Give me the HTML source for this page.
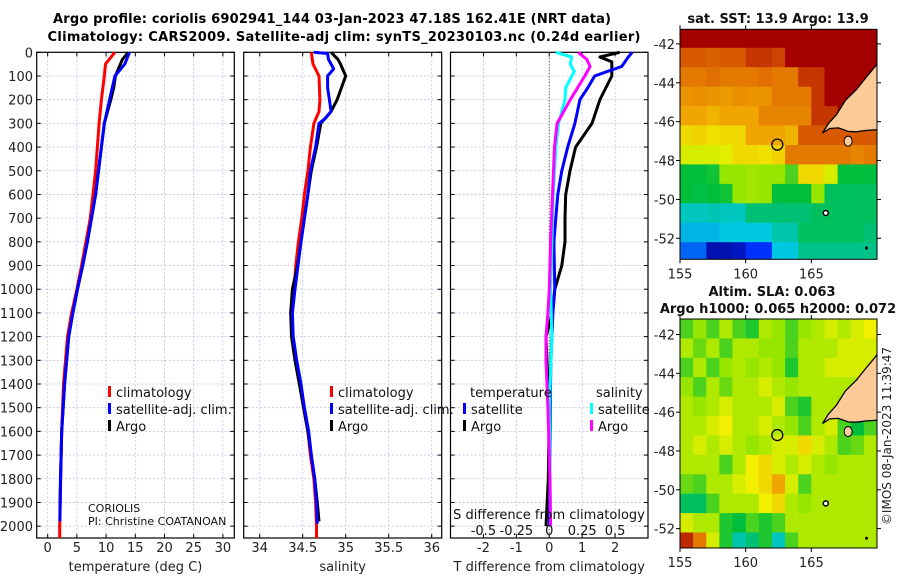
<!DOCTYPE html>
<html><head><meta charset="utf-8"><style>
html,body{margin:0;padding:0;background:#fff;}
svg{display:block;font-family:"DejaVu Sans","Liberation Sans",sans-serif;}
</style></head><body>
<svg id="fig" width="900" height="580" viewBox="0 0 900 580" xmlns="http://www.w3.org/2000/svg">
<text x="332" y="23" font-size="13" font-weight="bold" text-anchor="middle" textLength="558">Argo profile: coriolis 6902941_144 03-Jan-2023 47.18S 162.41E (NRT data)</text>
<text x="344" y="41" font-size="13" font-weight="bold" text-anchor="middle" textLength="593">Climatology: CARS2009. Satellite-adj clim: synTS_20230103.nc (0.24d earlier)</text>
<g id="panels"></g>
<g id="maps"></g>
</svg>
<script>
// ---------- profile data ----------
const tClimDepth = [0,50,100,200,300,500,700,900,1000,1100,1200,1400,1600,2000,2050];
const tClimVal   = [11.5,9.9,9.7,9.2,8.8,8.2,7.3,5.8,5.0,4.1,3.4,2.7,2.4,2.05,2.05];
const tArgoDepth = [0,30,100,150,200,300,400,500,600,700,800,900,1000,1100,1200,1400,1600,1800,1950];
const tArgoVal   = [13.8,12.8,11.6,11.3,10.8,9.7,9.2,8.7,8.2,7.5,6.8,6.0,5.1,4.3,3.6,2.9,2.4,2.2,2.1];
const tSatDepth  = [0,50,100,200,300,400,500,600,700,800,900,1000,1100,1200,1400,1600,1800,1980];
const tSatVal    = [14.0,13.2,11.5,10.6,9.7,9.2,8.7,8.2,7.5,6.8,6.0,5.1,4.3,3.6,2.9,2.4,2.2,2.1];

const sClimDepth = [0,50,100,200,250,300,400,500,600,700,800,900,1000,1100,1200,1300,1400,1500,1600,1700,1800,1900,2000,2050];
const sClimVal   = [34.60,34.62,34.69,34.70,34.69,34.63,34.59,34.56,34.52,34.49,34.45,34.42,34.40,34.37,34.38,34.42,34.47,34.51,34.56,34.59,34.63,34.65,34.66,34.66];
const sSatDepth  = [0,5,30,50,70,100,150,200,250,280,300,400,500,600,800,1000,1100,1200,1300,1400,1500,1600,1700,1800,1900,1990];
const sSatVal    = [34.63,34.79,34.80,34.83,34.86,34.79,34.79,34.81,34.83,34.76,34.69,34.65,34.59,34.56,34.48,34.41,34.38,34.39,34.43,34.48,34.52,34.57,34.60,34.64,34.66,34.67];
const sArgoDepth = [0,30,50,100,150,200,250,300,400,500,700,900,1000,1100,1200,1300,1400,1500,1600,1700,1800,1900,1980];
const sArgoVal   = [34.83,34.91,34.94,35.00,34.95,34.90,34.83,34.71,34.66,34.60,34.52,34.44,34.38,34.36,34.37,34.41,34.46,34.51,34.56,34.60,34.64,34.67,34.69];

const dTSatDepth = [0,20,60,80,100,150,200,300,400,500,600,700,800,1000,1100,1300,1500,1800,2000];
const dTSatVal   = [2.52,2.4,2.2,1.78,1.38,1.17,0.93,0.78,0.56,0.38,0.26,0.2,0.14,0.17,0.11,0.05,0.03,0.02,0.0];
const dTArgoDepth = [0,20,40,100,200,300,400,500,600,700,800,900,1000,1100,1200,1300,1500,1800,2000];
const dTArgoVal   = [2.14,1.54,1.9,1.9,1.54,1.3,0.8,0.63,0.5,0.48,0.48,0.38,0.17,0.1,-0.1,-0.07,0.0,-0.03,-0.1];
const dSSatDepth = [0,20,50,80,150,200,300,400,600,800,1000,1200,1500,2000];
const dSSatVal   = [0.05,0.17,0.16,0.19,0.125,0.12,0.07,0.05,0.03,0.02,0.01,0.02,0.0,0.01];
const dSArgoDepth = [0,30,60,100,200,300,400,600,800,1000,1100,1200,1300,1500,1700,1800,2000];
const dSArgoVal   = [0.22,0.285,0.31,0.27,0.16,0.06,0.04,0.025,0.01,0.0,-0.01,-0.025,-0.025,-0.01,0.0,0.005,0.01];

const depthTicks = [0,100,200,300,400,500,600,700,800,900,1000,1100,1200,1300,1400,1500,1600,1700,1800,1900,2000];
const tempTicks = [0,5,10,15,20,25,30];
const salTicks = [34,34.5,35,35.5,36];
const salTickLabels = ["34","34.5","35","35.5","36"];
const dTTicks = [-2,-1,0,1,2];
const dSTicks = [-0.5,-0.25,0,0.25,0.5];
const dSTickLabels = ["-0.5","-0.25","0","0.25","0.5"];

// ---------- map data (color index 0..1, rows north->south, 1 deg lon cols 155..170) ----------
const sstGrid = [
[1,1,1,1,1,1,1,1,1,1,1,1,1,1,1],
[.85,.85,.84,.85,.85,.9,.9,.88,1,1,1,1,1,1,1],
[.8,.8,.82,.8,.8,.8,.82,.8,.8,.9,.9,1,1,1,1],
[.75,.76,.75,.74,.76,.75,.75,.8,.8,.8,.9,1,1,1,1],
[.72,.72,.7,.72,.72,.72,.78,.78,.78,.78,.9,.9,1,1,1],
[.65,.66,.64,.65,.65,.72,.72,.72,.7,.85,.85,.85,.85,.85,.85],
[.6,.6,.6,.61,.65,.65,.64,.66,.8,.8,.8,.8,.8,.78,.8],
[.45,.45,.46,.55,.55,.56,.55,.55,.5,.65,.65,.6,.45,.45,.45],
[.45,.44,.45,.46,.55,.56,.55,.45,.45,.45,.55,.42,.42,.42,.42],
[.33,.33,.34,.33,.33,.4,.4,.4,.4,.4,.42,.42,.42,.42,.42],
[.28,.28,.28,.3,.3,.3,.3,.35,.35,.42,.42,.42,.42,.42,.4],
[.2,.2,.05,.05,.07,.15,.15,.3,.3,.38,.38,.38,.38,.38,.38]];
const slaGrid = [
[.5,.55,.5,.57,.5,.47,.57,.55,.5,.55,.57,.6,.57,.6,.62],
[.57,.52,.57,.5,.57,.57,.55,.55,.5,.57,.57,.57,.6,.6,.6],
[.5,.57,.5,.55,.57,.55,.57,.55,.47,.57,.57,.6,.6,.6,.6],
[.55,.5,.57,.52,.57,.57,.6,.57,.55,.57,.57,.57,.57,.57,.57],
[.57,.55,.57,.6,.57,.57,.57,.6,.5,.47,.57,.57,.55,.55,.55],
[.57,.57,.6,.62,.57,.57,.6,.57,.55,.5,.57,.6,.5,.45,.5],
[.57,.6,.57,.6,.57,.55,.57,.6,.6,.65,.6,.57,.5,.52,.57],
[.57,.57,.57,.5,.57,.62,.65,.6,.57,.6,.57,.55,.57,.57,.57],
[.52,.5,.57,.57,.6,.62,.65,.72,.6,.5,.57,.57,.57,.57,.57],
[.42,.42,.5,.57,.57,.57,.62,.65,.57,.55,.57,.57,.57,.57,.57],
[.6,.57,.57,.47,.45,.5,.47,.5,.57,.57,.57,.57,.57,.57,.57],
[.92,.8,.6,.47,.35,.4,.47,.33,.5,.57,.57,.57,.57,.57,.57]];
const gridLat0 = -41.2;
const landLon = [170.1,169.9,169.2,168.4,167.6,166.9,166.3,165.86,166.4,167.07,167.8,168.42,169.2,169.9,170.1];
const landLat = [-42.9,-43.13,-43.7,-44.37,-44.9,-45.65,-46.1,-46.58,-46.35,-46.32,-46.5,-46.52,-46.45,-46.42,-46.4];
const floatLon = 162.41, floatLat = -47.18;
const mapLonTicks = [155,160,165];
const mapLatTicks = [-42,-44,-46,-48,-50,-52];

const NS='http://www.w3.org/2000/svg';
function mk(tag,attrs,parent,txt){const e=document.createElementNS(NS,tag);for(const k in attrs)e.setAttribute(k,attrs[k]);if(txt!==undefined)e.textContent=txt;parent.appendChild(e);return e;}
const panelsG=document.getElementById('panels');
const Y0=52.3,Y1=538,D1=2050;
const yOf=d=>Y0+(d/D1)*(Y1-Y0);

function lineScale(d0,d1,x0,x1){return v=>x0+(v-d0)/(d1-d0)*(x1-x0);}

function panel(name,x0,x1,dom0,dom1,ticks,labels,xlabel,showY){
  const g=mk('g',{},panelsG);
  
  
  const xs=lineScale(dom0,dom1,x0,x1);
  depthTicks.forEach(d=>{const l=mk('line',{x1:x0,x2:x1,y1:yOf(d),y2:yOf(d),stroke:'#b8c0e0','stroke-width':0.8,'stroke-dasharray':'2,2'},g);
    
    mk('line',{x1:x0,x2:x0+4,y1:yOf(d),y2:yOf(d),stroke:'#000'},g);mk('line',{x1:x1-4,x2:x1,y1:yOf(d),y2:yOf(d),stroke:'#000'},g);
    if(showY){const t=mk('text',{x:33,y:yOf(d)+5,'font-size':13,'text-anchor':'end',fill:'#222'},panelsG,String(d));
      }
  });
  ticks.forEach((v,i)=>{const l=mk('line',{x1:xs(v),x2:xs(v),y1:Y0,y2:Y1,stroke:'#b8c0e0','stroke-width':0.8,'stroke-dasharray':'2,2'},g);
    
    mk('line',{x1:xs(v),x2:xs(v),y1:Y1,y2:Y1-4,stroke:'#000'},g);mk('line',{x1:xs(v),x2:xs(v),y1:Y0,y2:Y0+4,stroke:'#000'},g);
    const t=mk('text',{x:xs(v),y:552,'font-size':13,'text-anchor':'middle',fill:'#222'},g,labels[i]);
    
  });
  const f=mk('rect',{x:x0,y:Y0,width:x1-x0,height:Y1-Y0,fill:'none',stroke:'#000','stroke-width':1.2},g);
  
  const xl=mk('text',{x:(x0+x1)/2,y:571,'font-size':13,'text-anchor':'middle',fill:'#222'},g,xlabel);
  
  return {g,xs};
}
function series(p,depths,vals,color,name,w){
  const pts=depths.map((d,i)=>p.xs(vals[i]).toFixed(1)+','+yOf(d).toFixed(1)).join(' ');
  const l=mk('polyline',{points:pts,fill:'none',stroke:color,'stroke-width':w||3,'stroke-linejoin':'round'},p.g);
  
}
function legend(g,x,y,color,label,name){
  const m=mk('rect',{x:x,y:y-11,width:3,height:11,fill:color},g);
  const t=mk('text',{x:x+8,y:y,'font-size':13,fill:'#111'},g,label);
  
}

// Panel 1 temperature
const p1=panel('temperature-panel',36.7,234.3,-1.88,31.95,tempTicks,tempTicks.map(String),'temperature (deg C)',true);
series(p1,tClimDepth,tClimVal,'#f00','temp-climatology-line');
series(p1,tArgoDepth,tArgoVal,'#000','temp-argo-line');
series(p1,tSatDepth,tSatVal,'#00f','temp-satellite-line');
legend(p1.g,108,397,'#f00','climatology','legend-climatology');
legend(p1.g,108,414,'#00f','satellite-adj. clim.','legend-satellite');
legend(p1.g,108,431,'#000','Argo','legend-argo');
mk('text',{x:88,y:512,'font-size':11,fill:'#111'},p1.g,'CORIOLIS');
mk('text',{x:88,y:525,'font-size':11,fill:'#111'},p1.g,'PI: Christine COATANOAN');

// Panel 2 salinity
const p2=panel('salinity-panel',243.7,441.7,33.814,36.116,salTicks,salTickLabels,'salinity',false);
series(p2,sClimDepth,sClimVal,'#f00','sal-climatology-line');
series(p2,sArgoDepth,sArgoVal,'#000','sal-argo-line');
series(p2,sSatDepth,sSatVal,'#00f','sal-satellite-line');
legend(p2.g,330,397,'#f00','climatology','legend-climatology');
legend(p2.g,330,414,'#00f','satellite-adj. clim.','legend-satellite');
legend(p2.g,330,431,'#000','Argo','legend-argo');

// Panel 3 differences
const p3=panel('difference-panel',450.5,648,-3,3,dTTicks,dTTicks.map(String),'T difference from climatology',false);
const zl=mk('line',{x1:p3.xs(0),x2:p3.xs(0),y1:Y0,y2:Y1,stroke:'#333','stroke-width':1,'stroke-dasharray':'1,2'},p3.g);

const sx=lineScale(-0.75,0.75,450.5,648);
const p3s={g:p3.g,xs:sx};
series(p3,dTArgoDepth,dTArgoVal,'#000','dT-argo-line');
series(p3,dTSatDepth,dTSatVal,'#00f','dT-satellite-line');
series(p3s,dSSatDepth,dSSatVal,'#0ff','dS-satellite-line');
series(p3s,dSArgoDepth,dSArgoVal,'#f0f','dS-argo-line');
mk('text',{x:470,y:397,'font-size':13,fill:'#111'},p3.g,'temperature');
mk('text',{x:596,y:397,'font-size':13,fill:'#111'},p3.g,'salinity');
legend(p3.g,463,414,'#00f','satellite','legend-t-satellite');
legend(p3.g,463,431,'#000','Argo','legend-t-argo');
legend(p3.g,590,414,'#0ff','satellite','legend-s-satellite');
legend(p3.g,590,431,'#f0f','Argo','legend-s-argo');
mk('text',{x:549,y:519,'font-size':13,'text-anchor':'middle',fill:'#111'},p3.g,'S difference from climatology');
dSTicks.forEach((v,i)=>{const t=mk('text',{x:sx(v),y:535,'font-size':13,'text-anchor':'middle',fill:'#111'},p3.g,dSTickLabels[i]);
  });

// ---------- maps ----------
const stops=[[0,[0,0,140]],[0.15,[0,50,255]],[0.3,[0,200,225]],[0.45,[0,190,60]],[0.55,[150,230,0]],[0.62,[240,240,0]],[0.72,[240,165,0]],[0.82,[225,110,0]],[0.92,[190,40,0]],[1,[165,0,0]]];
function cmap(v){for(let i=1;i<stops.length;i++){if(v<=stops[i][0]){const a=stops[i-1],b=stops[i],t=(v-a[0])/(b[0]-a[0]);return 'rgb('+a[1].map((c,k)=>Math.round(c+(b[1][k]-c)*t)).join(',')+')';}}return 'rgb(165,0,0)';}
const mapsG=document.getElementById('maps');
function drawMap(name,grid,x0,x1,y0,y1,latTop,latBot){
  const g=mk('g',{},mapsG);
  
  
  const lx=lon=>x0+(lon-155)/15*(x1-x0);
  const ly=lat=>y0+(latTop-lat)/(latTop-latBot)*(y1-y0);
  mk('clipPath',{id:name+'-clip'},g).appendChild(Object.assign(document.createElementNS(NS,'rect'),{}));
  const cp=g.lastChild.firstChild;cp.setAttribute('x',x0);cp.setAttribute('y',y0);cp.setAttribute('width',x1-x0);cp.setAttribute('height',y1-y0);
  const cg=mk('g',{'clip-path':'url(#'+name+'-clip)'},g);
  grid.forEach((row,r)=>row.forEach((v,c)=>{
    const xa=lx(155+c),xb=lx(156+c),ya=ly(gridLat0-r),yb=ly(gridLat0-r-1);
    const cell=mk('rect',{x:xa.toFixed(1),y:ya.toFixed(1),width:(xb-xa+0.6).toFixed(1),height:(yb-ya+0.6).toFixed(1),fill:cmap(v)},cg);
    
    
  }));
  const land=mk('polygon',{points:landLon.map((lo,i)=>lx(lo).toFixed(1)+','+ly(landLat[i]).toFixed(1)).join(' '),fill:'#fccb98',stroke:'#000','stroke-width':1.3},cg);
  
  mk('ellipse',{cx:lx(167.8),cy:ly(-47.0),rx:4,ry:5,fill:'#fccb98',stroke:'#000'},cg);
  mk('circle',{cx:lx(166.1),cy:ly(-50.7),r:2.5,fill:'#fff',stroke:'#000','stroke-width':1.5},cg);
  mk('circle',{cx:lx(169.2),cy:ly(-52.5),r:1.5,fill:'#000'},cg);
  const fc=mk('circle',{cx:lx(floatLon),cy:ly(floatLat),r:5.5,fill:'none',stroke:'#000','stroke-width':1.3},g);
  
  mk('rect',{x:x0,y:y0,width:x1-x0,height:y1-y0,fill:'none',stroke:'#000','stroke-width':1},g);
  mapLonTicks.forEach(lo=>{mk('line',{x1:lx(lo),x2:lx(lo),y1:y1,y2:y1+4,stroke:'#000'},g);mk('line',{x1:lx(lo),x2:lx(lo),y1:y0,y2:y0-4,stroke:'#000'},g);
    const t=mk('text',{x:lx(lo),y:y1+19,'font-size':13,'text-anchor':'middle',fill:'#222'},g,String(lo));});
  mapLatTicks.forEach(la=>{mk('line',{x1:x0-4,x2:x0,y1:ly(la),y2:ly(la),stroke:'#000'},g);mk('line',{x1:x1,x2:x1+4,y1:ly(la),y2:ly(la),stroke:'#000'},g);
    const t=mk('text',{x:x0-5,y:ly(la)+5,'font-size':13,'text-anchor':'end',fill:'#222'},g,String(la));});
}
drawMap('sst-map',sstGrid,680,877,29.3,259.3,-41.25,-53.08);
drawMap('sla-map',slaGrid,680,877,319,548,-41.2,-53.0);
const mt=(x,y,s,n)=>{const t=mk('text',{x:x,y:y,'font-size':13,'font-weight':'bold','text-anchor':'middle',fill:'#111'},mapsG,s);};
mt(778,23,'sat. SST: 13.9 Argo: 13.9','sst-map-title');
mt(772,296,'Altim. SLA: 0.063','sla-map-title');
mt(778,313,'Argo h1000: 0.065 h2000: 0.072','sla-argo-heights');
const cr=mk('text',{x:0,y:0,'font-size':12,'text-anchor':'middle',fill:'#222',transform:'translate(891,436) rotate(-90)'},mapsG,'©IMOS 08-Jan-2023 11:39:47');

</script>
</body></html>
